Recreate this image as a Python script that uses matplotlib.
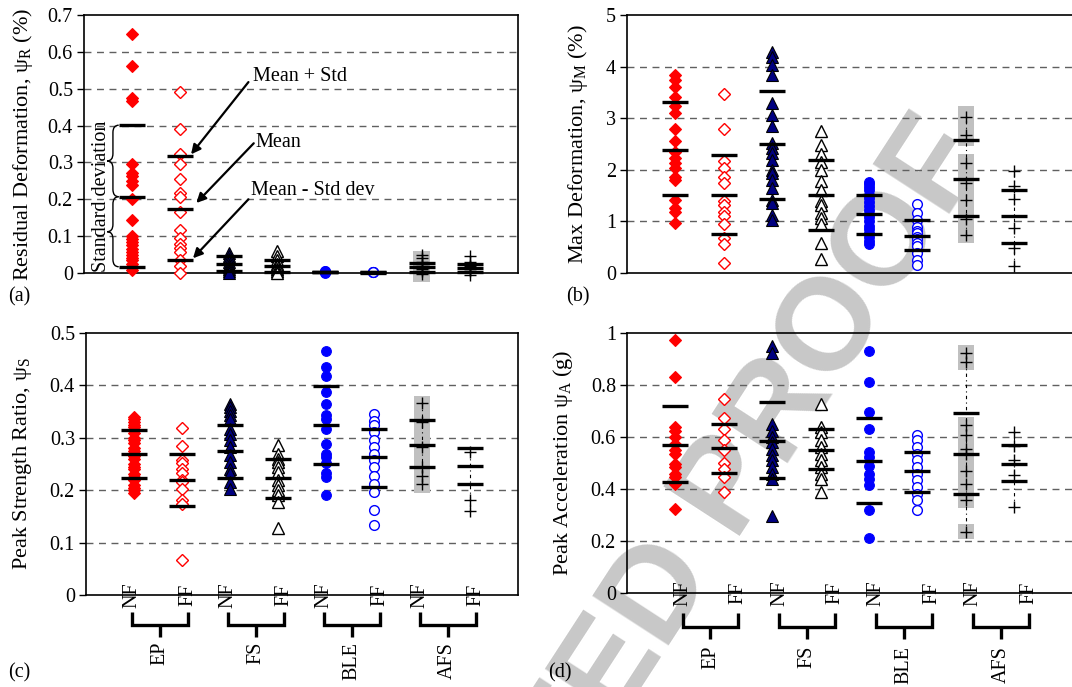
import numpy as np
import matplotlib
matplotlib.use('Agg')
import matplotlib.pyplot as plt
from matplotlib.path import Path
from matplotlib.patches import PathPatch, Rectangle

plt.rcParams['font.family'] = ['Liberation Serif', 'DejaVu Serif']
plt.rcParams['mathtext.fontset'] = 'custom'
plt.rcParams['mathtext.rm'] = 'Liberation Serif'
plt.rcParams['mathtext.it'] = 'Liberation Serif:italic'

# ---------------- data ----------------
groups = ['EP', 'FS', 'BLE', 'AFS']
fields = ['NF', 'FF']
series = ['EP-NF', 'EP-FF', 'FS-NF', 'FS-FF', 'BLE-NF', 'BLE-FF', 'AFS-NF', 'AFS-FF']

# (a) Residual deformation (%)
res_ep_nf = [0.648, 0.562, 0.475, 0.467, 0.296, 0.27, 0.262, 0.25, 0.24, 0.2, 0.144, 0.1, 0.092,
             0.085, 0.075, 0.065, 0.058, 0.05, 0.042, 0.035, 0.025, 0.015, 0.007]
res_ep_ff = [0.49, 0.39, 0.323, 0.296, 0.255, 0.218, 0.207, 0.165, 0.117, 0.095, 0.078, 0.068,
             0.058, 0.035, 0.02, 0.0]
res_fs_nf = [0.055, 0.045, 0.038, 0.03, 0.022, 0.015, 0.01, 0.005, 0.0]
res_fs_ff = [0.06, 0.045, 0.035, 0.025, 0.018, 0.012, 0.005, 0.0]
res_ble_nf = [0.006, 0.005, 0.004, 0.003, 0.002, 0.001]
res_ble_ff = [0.004, 0.003, 0.002]
res_afs_nf = [0.05, 0.04, 0.03, 0.02, 0.012, 0.005, -0.002]
res_afs_ff = [0.045, 0.03, 0.02, 0.012, 0.005, -0.005]
res_stats = [[0.401, 0.207, 0.017], [0.317, 0.174, 0.035], [0.045, 0.025, 0.006],
             [0.035, 0.018, 0.004], [0.004, 0.003, 0.002], [0.003, 0.002, 0.001],
             [0.028, 0.016, 0.004], [0.025, 0.014, 0.003]]
res_boxes = [(-0.024, 0.059)]

# (b) Max deformation (%)
max_ep_nf = [3.84, 3.74, 3.6, 3.42, 3.24, 3.1, 2.79, 2.55, 2.35, 2.23, 2.13, 2.03, 1.87, 1.81,
             1.42, 1.26, 1.19, 0.96]
max_ep_ff = [3.46, 2.79, 2.17, 2.03, 1.87, 1.75, 1.39, 1.32, 1.19, 1.1, 0.95, 0.68, 0.56, 0.19]
max_fs_nf = [4.29, 4.19, 4.03, 3.84, 3.29, 3.06, 2.85, 2.52, 2.42, 2.32, 2.19, 2.0, 1.94, 1.81,
             1.65, 1.42, 1.35, 1.13, 1.03]
max_fs_ff = [2.75, 2.48, 2.3, 2.16, 2.0, 1.79, 1.61, 1.39, 1.32, 1.16, 1.06, 0.94, 0.58, 0.27]
max_ble_nf = [1.77, 1.72, 1.66, 1.6, 1.52, 1.45, 1.38, 1.3, 1.22, 1.15, 1.08, 1.0, 0.92, 0.85,
              0.78, 0.7, 0.62, 0.56]
max_ble_ff = [1.34, 1.16, 1.03, 0.9, 0.82, 0.77, 0.7, 0.65, 0.58, 0.52, 0.39, 0.26, 0.15]
max_afs_nf = [3.02, 2.68, 2.14, 1.75, 1.42, 1.05, 0.74]
max_afs_ff = [1.97, 1.69, 1.43, 0.87, 0.48, 0.13]
max_stats = [[3.31, 2.39, 1.51], [2.29, 1.51, 0.76], [3.52, 2.5, 1.44], [2.19, 1.51, 0.83],
             [1.51, 1.14, 0.76], [1.03, 0.72, 0.45], [2.57, 1.82, 1.1], [1.61, 1.1, 0.59]]
max_boxes = [(2.47, 3.23), (0.58, 2.31)]

# (c) Peak strength ratio
str_ep_nf = [0.34, 0.335, 0.33, 0.325, 0.32, 0.31, 0.30, 0.295, 0.29, 0.28, 0.275, 0.27, 0.265,
             0.26, 0.25, 0.245, 0.24, 0.23, 0.225, 0.22, 0.21, 0.205, 0.2, 0.195]
str_ep_ff = [0.319, 0.284, 0.258, 0.251, 0.241, 0.232, 0.22, 0.216, 0.203, 0.182, 0.174, 0.067]
str_fs_nf = [0.365, 0.359, 0.352, 0.343, 0.336, 0.317, 0.308, 0.295, 0.282, 0.267, 0.254,
             0.241, 0.232, 0.216, 0.203]
str_fs_ff = [0.286, 0.27, 0.26, 0.254, 0.244, 0.235, 0.219, 0.209, 0.2, 0.19, 0.177, 0.127]
str_ble_nf = [0.465, 0.436, 0.417, 0.387, 0.364, 0.344, 0.336, 0.316, 0.289, 0.27, 0.263,
              0.251, 0.232, 0.225, 0.19]
str_ble_ff = [0.345, 0.333, 0.324, 0.311, 0.295, 0.282, 0.27, 0.257, 0.244, 0.228, 0.212,
              0.197, 0.163, 0.133]
str_afs_nf = [0.366, 0.33, 0.282, 0.244, 0.228, 0.212]
str_afs_ff = [0.273, 0.181, 0.16]
str_stats = [[0.314, 0.27, 0.223], [0.27, 0.22, 0.169], [0.324, 0.274, 0.223], [0.26, 0.223, 0.186],
             [0.398, 0.324, 0.25], [0.317, 0.263, 0.206], [0.334, 0.287, 0.244], [0.281, 0.247, 0.211]]
str_boxes = [(0.195, 0.379)]

# (d) Peak acceleration (g)
acc_ep_nf = [0.972, 0.83, 0.639, 0.625, 0.6, 0.574, 0.549, 0.535, 0.498, 0.484, 0.458, 0.445,
             0.42, 0.322]
acc_ep_ff = [0.748, 0.674, 0.632, 0.587, 0.549, 0.5, 0.478, 0.445, 0.39]
acc_fs_nf = [0.949, 0.923, 0.651, 0.625, 0.6, 0.58, 0.555, 0.529, 0.51, 0.484, 0.458, 0.439, 0.298]
acc_fs_ff = [0.728, 0.64, 0.62, 0.587, 0.561, 0.535, 0.51, 0.484, 0.458, 0.439, 0.388]
acc_ble_nf = [0.929, 0.813, 0.698, 0.632, 0.542, 0.522, 0.49, 0.458, 0.439, 0.417, 0.32, 0.21]
acc_ble_ff = [0.606, 0.587, 0.561, 0.535, 0.51, 0.484, 0.458, 0.433, 0.407, 0.381, 0.356, 0.32]
acc_afs_nf = [0.923, 0.887, 0.647, 0.606, 0.555, 0.533, 0.471, 0.42, 0.356, 0.236]
acc_afs_ff = [0.621, 0.565, 0.51, 0.452, 0.33]
acc_stats = [[0.719, 0.57, 0.427], [0.651, 0.557, 0.462], [0.733, 0.584, 0.443], [0.632, 0.551, 0.476],
             [0.673, 0.508, 0.348], [0.542, 0.469, 0.388], [0.692, 0.535, 0.381], [0.57, 0.497, 0.43]]
acc_boxes = [(0.859, 0.952), (0.325, 0.678), (0.207, 0.264)]

# ---------------- styles ----------------
RED, NAVY, BLUE = '#ff0000', '#000080', '#0000ff'
styles = [
    dict(marker='D', mfc=RED, mec=RED, ms=6.2, mew=0.8),
    dict(marker='D', mfc='white', mec=RED, ms=5.8, mew=1.0),
    dict(marker='^', mfc=NAVY, mec='black', ms=8.0, mew=0.8),
    dict(marker='^', mfc='white', mec='black', ms=8.0, mew=1.0),
    dict(marker='o', mfc=BLUE, mec=BLUE, ms=7.0, mew=0.8),
    dict(marker='o', mfc='white', mec=BLUE, ms=7.0, mew=1.0),
    dict(marker='+', mfc='black', mec='black', ms=8.0, mew=1.0),
    dict(marker='+', mfc='black', mec='black', ms=8.0, mew=1.0),
]

W, H = 1072, 687
fig = plt.figure(figsize=(W / 100, H / 100), dpi=100)

def px_axes(l, t, r, b):
    return fig.add_axes([l / W, 1 - b / H, (r - l) / W, (b - t) / H], facecolor='none')

positions = np.arange(1, 9)

def panel(ax, values, stats, boxes, ylim, yticks, ylabel, xmax, right_spine=True, lpad=10):
    ax.set_xlim(0, xmax)
    ax.set_ylim(*ylim)
    ax.set_yticks(yticks)
    ax.set_yticklabels([('%g' % t) for t in yticks])
    ax.tick_params(axis='y', direction='out', length=5, width=1.0, labelsize=14.5, pad=3)
    ax.set_xticks([])
    for s in ax.spines.values():
        s.set_linewidth(1.2)
    ax.spines['right'].set_visible(right_spine)
    for t in yticks[1:-1]:
        ax.axhline(t, color='#606060', lw=1.0, ls=(0, (5, 4)), zorder=1)
    # gray boxes behind AFS-NF
    for lo, hi in boxes:
        ax.add_patch(Rectangle((positions[6] - 0.17, lo), 0.34, hi - lo, facecolor='#c0c0c0',
                               edgecolor='none', zorder=1.5, clip_on=False))
    for i, (vals, st) in enumerate(zip(values, stats)):
        x = positions[i]
        if i >= 6:
            ax.plot([x, x], [min(vals), max(vals)], color='black', lw=0.8,
                    ls=(0, (3, 3, 1, 3)), zorder=2, clip_on=False)
        ax.plot(np.full(len(vals), x), vals, ls='none', zorder=3, clip_on=False, **styles[i])
        ax.hlines(st, x - 0.27, x + 0.27, colors='black', lw=2.4, zorder=4, clip_on=False)
    ax.set_ylabel(ylabel, fontsize=16, labelpad=lpad)

# panel (a)
axa = px_axes(84, 15, 518, 273)
panel(axa, [res_ep_nf, res_ep_ff, res_fs_nf, res_fs_ff, res_ble_nf, res_ble_ff, res_afs_nf, res_afs_ff],
      res_stats, res_boxes, (0, 0.7), [0, 0.1, 0.2, 0.3, 0.4, 0.5, 0.6, 0.7],
      r'Residual Deformation, ψ$_\mathrm{R}$ (%)', 9, lpad=9)

# panel (b)
axb = px_axes(627, 15, 1085, 273)
panel(axb, [max_ep_nf, max_ep_ff, max_fs_nf, max_fs_ff, max_ble_nf, max_ble_ff, max_afs_nf, max_afs_ff],
      max_stats, max_boxes, (0, 5), [0, 1, 2, 3, 4, 5],
      r'Max Deformation, ψ$_\mathrm{M}$ (%)', (1085 - 627) / 48.4, right_spine=False, lpad=11)

# panel (c)
axc = px_axes(86, 333, 518, 595)
panel(axc, [str_ep_nf, str_ep_ff, str_fs_nf, str_fs_ff, str_ble_nf, str_ble_ff, str_afs_nf, str_afs_ff],
      str_stats, str_boxes, (0, 0.5), [0, 0.1, 0.2, 0.3, 0.4, 0.5],
      r'Peak Strength Ratio, ψ$_\mathrm{S}$', 9, lpad=11)

# panel (d)
axd = px_axes(627, 333, 1085, 593)
panel(axd, [acc_ep_nf, acc_ep_ff, acc_fs_nf, acc_fs_ff, acc_ble_nf, acc_ble_ff, acc_afs_nf, acc_afs_ff],
      acc_stats, acc_boxes, (0, 1), [0, 0.2, 0.4, 0.6, 0.8, 1],
      r'Peak Acceleration ψ$_\mathrm{A}$ (g)', (1085 - 627) / 48.4, right_spine=False, lpad=11)

# category labels and brackets for (c) and (d)
def brackets(ax, nf_x, ff_x, y_top, y_bar, y_stem, y_lab):
    tr = ax.get_xaxis_transform()
    bb = ax.get_position()
    def fy(py):
        return ((1 - py / H) - bb.y0) / bb.height
    for g, (xn, xf) in enumerate(zip(nf_x, ff_x)):
        ax.text(xn, 0, fields[0], rotation=90, ha='center', va='center', fontsize=14.5,
                transform=ax.transData, clip_on=False)
        ax.text(xf, 0, fields[1], rotation=90, ha='center', va='center', fontsize=14.5,
                transform=ax.transData, clip_on=False)
        xs = [xn, xn, xf, xf]
        ys = [fy(y_top), fy(y_bar), fy(y_bar), fy(y_top)]
        ax.plot(xs, ys, color='black', lw=2.4, transform=tr, clip_on=False,
                solid_capstyle='butt', solid_joinstyle='miter')
        xm = (xn + xf) / 2
        ax.plot([xm, xm], [fy(y_bar), fy(y_stem)], color='black', lw=2.4, transform=tr,
                clip_on=False, solid_capstyle='butt')
        ax.text(xm, fy(y_lab), groups[g], rotation=90, ha='center', va='top', fontsize=14.5,
                transform=tr, clip_on=False)

brackets(axc, positions[0::2] - 0.05, positions[1::2] + 0.12, 612, 625, 637, 642)
brackets(axd, positions[0::2] + 0.15, positions[1::2] + 0.3, 613, 627, 639, 646)

# annotations on (a)
def curly(ax, x, y0, y1, w, d):
    ym = (y0 + y1) / 2
    verts = [(x + w, y1), (x, y1), (x, y1 - d), (x, ym + d), (x, ym), (x - w, ym),
             (x, ym), (x, ym - d), (x, y0 + d), (x, y0), (x + w, y0)]
    codes = [Path.MOVETO, Path.CURVE3, Path.CURVE3, Path.LINETO, Path.CURVE3, Path.CURVE3,
             Path.CURVE3, Path.CURVE3, Path.LINETO, Path.CURVE3, Path.CURVE3]
    ax.add_patch(PathPatch(Path(verts, codes), facecolor='none', edgecolor='black', lw=1.0,
                           clip_on=False))

curly(axa, 0.6, res_stats[0][1], res_stats[0][0], 0.12, 0.02)
curly(axa, 0.6, res_stats[0][2], res_stats[0][1], 0.12, 0.02)
axa.text(0.36, (res_stats[0][0] + res_stats[0][2]) / 2, 'Standard deviation', rotation=90,
         ha='center', va='center', fontsize=14.5)

notes = [('Mean + Std', (3.5, 0.532), (3.41, 0.518), (2.22, 0.322)),
         ('Mean', (3.56, 0.355), (3.52, 0.352), (2.33, 0.19)),
         ('Mean - Std dev', (3.46, 0.225), (3.41, 0.2), (2.26, 0.04))]
for txt, tpos, tail, head in notes:
    axa.text(tpos[0], tpos[1], txt, ha='left', va='center', fontsize=14.5)
    axa.annotate('', xy=head, xytext=tail,
                 arrowprops=dict(arrowstyle='-|>', color='black', lw=1.6, mutation_scale=14,
                                 shrinkA=0, shrinkB=0))

# panel letters
for lab, (px, py) in zip(['(a)', '(b)', '(c)', '(d)'],
                         [(8, 297), (566, 297), (8, 673), (548, 673)]):
    fig.text(px / W, 1 - py / H, lab, fontsize=14.5, ha='left', va='center')

# watermark
fig.text(960 / W, 1 - 135 / H, 'UNCORRECTED PROOF', ha='right', va='center', fontsize=94,
         color='#c8c8c8', fontweight='bold', family='Liberation Sans', rotation=57,
         rotation_mode='anchor', zorder=-1)

fig.savefig('out.png', dpi=100)
